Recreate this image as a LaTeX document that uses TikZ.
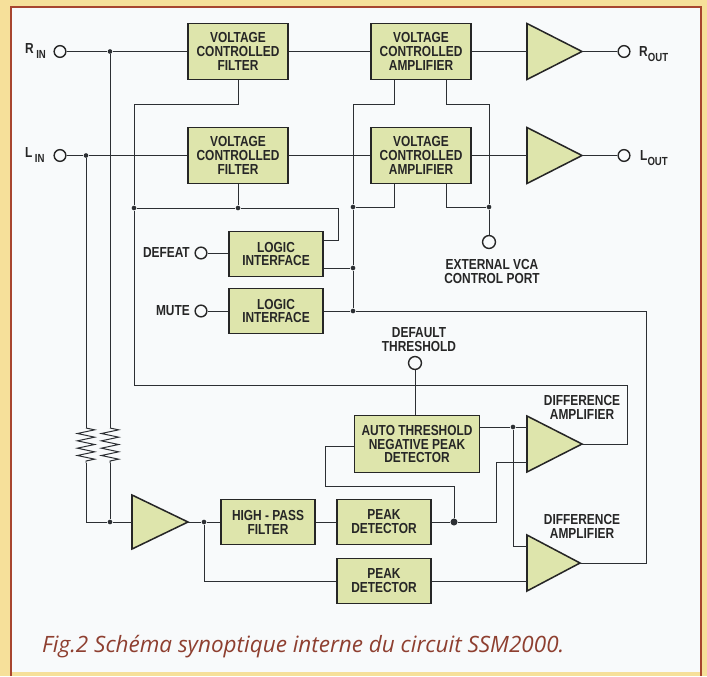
\documentclass[tikz,border=0pt]{standalone}
\usepackage{fontspec}
\setmainfont{Liberation Sans}
\newfontfamily\blockfont[FakeStretch=0.82]{Liberation Sans}
\newfontfamily\captionfont{Open Sans}
\usetikzlibrary{decorations.pathmorphing}
\definecolor{pagecol}{HTML}{F6E09A}
\definecolor{framecol}{HTML}{A8452F}
\definecolor{insidecol}{HTML}{F8FAFB}
\definecolor{blockcol}{HTML}{DEE5AC}
\definecolor{wirecol}{HTML}{2C2F33}
\definecolor{captioncol}{HTML}{8E3F30}
\tikzset{
    blockbox/.style={draw=black!85, fill=blockcol, line width=1.1pt, inner sep=0pt, font=\blockfont\bfseries\fontsize{12.4}{11.9}\selectfont, text=black!85, align=center},
    lbl/.style={font=\blockfont\bfseries\fontsize{12.4}{11.9}\selectfont, text=black!85, align=center, inner sep=0pt},
    wire/.style={draw=wirecol, line width=0.85pt},
    port/.style={circle, draw=black!85, fill=insidecol, line width=1.2pt, minimum size=10pt, inner sep=0pt},
    joint/.style={circle, fill=wirecol, minimum size=4pt, inner sep=0pt},
    resistor/.style={wire, decorate, decoration={zigzag, amplitude=2.6mm, segment length=2.2mm}}
}
% triangle for amplifiers, #1 = name, #2 = left x, #3 = mid y, #4 = height, #5 = width
\newcommand{\ampl}[5]{
    \coordinate (#1in) at (#2,#3);
    \coordinate (#1a) at (#2,#3-#4/2);
    \coordinate (#1b) at (#2,#3+#4/2);
    \coordinate (#1tip) at (#2+#5,#3);
    \draw[fill=blockcol, draw=black!85, line width=1.3pt] (#1a) -- (#1tip) -- (#1b) -- cycle;
}
\begin{document}
\begin{tikzpicture}[x=0.3mm, y=-0.3mm]
    \useasboundingbox (0,0) rectangle (707,676);
    \fill[pagecol] (0,0) rectangle (707,676);
    \fill[insidecol] (11,7) rectangle (701,672);
    \draw[framecol, line width=2.2pt] (11,676) -- (11,7) -- (701,7) -- (701,676);

    % blocks
    \node[blockbox, minimum width=30mm, minimum height=16.8mm] (vcfr) at (238,51.5) {VOLTAGE\\CONTROLLED\\FILTER};
    \node[blockbox, minimum width=30mm, minimum height=16.8mm] (vcfl) at (238,155.5) {VOLTAGE\\CONTROLLED\\FILTER};
    \node[blockbox, minimum width=30mm, minimum height=16.8mm] (vcar) at (421,51.5) {VOLTAGE\\CONTROLLED\\AMPLIFIER};
    \node[blockbox, minimum width=30mm, minimum height=16.8mm] (vcal) at (421,155.5) {VOLTAGE\\CONTROLLED\\AMPLIFIER};
    \node[blockbox, minimum width=28.2mm, minimum height=13.5mm] (logica) at (276,254) {LOGIC\\INTERFACE};
    \node[blockbox, minimum width=28.2mm, minimum height=13.5mm] (logicb) at (276,311) {LOGIC\\INTERFACE};
    \node[blockbox, minimum width=37.5mm, minimum height=17.1mm] (autothr) at (417,444) {AUTO THRESHOLD\\NEGATIVE PEAK\\DETECTOR};
    \node[blockbox, minimum width=28.2mm, minimum height=13.5mm] (hpf) at (268,522) {HIGH - PASS\\FILTER};
    \node[blockbox, minimum width=28.2mm, minimum height=13.5mm] (peaka) at (384,522) {PEAK\\DETECTOR};
    \node[blockbox, minimum width=28.2mm, minimum height=13.5mm] (peakb) at (384,581) {PEAK\\DETECTOR};

    % amplifiers
    \ampl{ampr}{527}{51.5}{56}{55}
    \ampl{ampl}{527}{155.5}{56}{55}
    \ampl{ampin}{132}{522}{54}{56}
    \ampl{diffa}{527}{444}{56}{55}
    \ampl{diffb}{527}{563}{56}{53}

    % ports
    \node[port] (rin) at (60,51.5) {};
    \node[port] (lin) at (60,155.5) {};
    \node[port] (rout) at (624,51.5) {};
    \node[port] (lout) at (624,155.5) {};
    \node[port] (defeat) at (201,253) {};
    \node[port] (mute) at (201,311) {};
    \node[port, minimum size=11pt] (extvca) at (489,242) {};
    \node[port, minimum size=11pt] (defthr) at (415,363) {};

    % junctions
    \node[joint] (jrin) at (110,51.5) {};
    \node[joint] (jlin) at (86,155.5) {};
    \node[joint] (jsum) at (110,522) {};
    \node[joint] (jhp) at (204,522) {};
    \node[joint] (jctl) at (134,208) {};
    \node[joint] (jvcf) at (238,208) {};
    \node[joint] (jvcaa) at (353,207) {};
    \node[joint] (jvcab) at (353,268) {};
    \node[joint] (jvcac) at (353,311) {};
    \node[joint] (jext) at (489,207) {};
    \node[joint, minimum size=6pt] (jpeak) at (454,522) {};
    \node[joint] (jthr) at (513,427) {};

    % resistor ends
    \coordinate (ra1) at (86,428);
    \coordinate (ra2) at (86,463);
    \coordinate (rb1) at (110,428);
    \coordinate (rb2) at (110,463);

    % signal path
    \draw[wire] (rin) -- (jrin) -- (vcfr) -- (vcar) -- (amprin);
    \draw[wire] (amprtip) -- (rout);
    \draw[wire] (lin) -- (jlin) -- (vcfl) -- (vcal) -- (amplin);
    \draw[wire] (ampltip) -- (lout);
    \draw[wire] (jrin) -- (rb1);
    \draw[wire] (jlin) -- (ra1);
    \draw[resistor] (ra1) -- (ra2);
    \draw[resistor] (rb1) -- (rb2);
    \draw[wire] (ra2) |- (jsum) -- (ampinin);
    \draw[wire] (rb2) -- (jsum);
    \draw[wire] (ampintip) -- (jhp) -- (hpf) -- (peaka);
    \draw[wire] (jhp) |- (peakb);
    \draw[wire] (peakb) -- (peakb -| diffbin);

    % control lines
    \draw[wire] (vcfr.south) |- (134,104) -- (jctl);
    \draw[wire] (jctl) -- (134,385) -- (627,385) |- (diffatip);
    \draw[wire] (vcfl.south) -- (jvcf);
    \draw[wire] (jctl) -- (jvcf) -- (338,208) |- (logica.east |- 0,240);
    \draw[wire] (vcar.south -| 394,0) |- (353,104) -- (jvcaa) -- (jvcab) -- (jvcac);
    \draw[wire] (vcal.south -| 394,0) |- (jvcaa);
    \draw[wire] (logica.east |- jvcab) -- (jvcab);
    \draw[wire] (logicb) -- (jvcac) -- (646,311) |- (diffbtip);
    \draw[wire] (vcar.south -| 446,0) |- (489,104) -- (jext) -- (extvca);
    \draw[wire] (vcal.south -| 446,0) |- (jext);
    \draw[wire] (defeat) -- (defeat -| logica.west);
    \draw[wire] (mute) -- (logicb);

    % threshold part
    \draw[wire] (defthr) -- (defthr |- autothr.north);
    \draw[wire] (autothr.east |- jthr) -- (jthr) -- (jthr -| diffaa);
    \draw[wire] (jthr) |- (527,546);
    \draw[wire] (peaka) -- (jpeak) -- (496,522) |- (527,462);
    \draw[wire] (jpeak) |- (325,486) |- (autothr.west |- 0,446);

    % labels
    \node[lbl, anchor=east] (defeatlbl) at (190,253) {DEFEAT};
    \node[lbl, anchor=east] (mutelbl) at (190,311) {MUTE};
    \node[lbl] (extlbl) at (492,271.5) {EXTERNAL VCA\\CONTROL PORT};
    \node[lbl] (thrlbl) at (419,340) {DEFAULT\\THRESHOLD};
    \node[lbl] (diffalbl) at (582,407) {DIFFERENCE\\AMPLIFIER};
    \node[lbl] (diffblbl) at (582,526) {DIFFERENCE\\AMPLIFIER};
    \node[lbl, anchor=west] (rinlbl) at (25,51) {R\raisebox{-0.6ex}{\,\fontsize{10}{10}\selectfont IN}};
    \node[lbl, anchor=west] (linlbl) at (25,155) {L\raisebox{-0.6ex}{\,\fontsize{10}{10}\selectfont IN}};
    \node[lbl, anchor=west] (routlbl) at (639,54) {R\raisebox{-0.6ex}{\fontsize{10}{10}\selectfont OUT}};
    \node[lbl, anchor=west] (loutlbl) at (640,158) {L\raisebox{-0.6ex}{\fontsize{10}{10}\selectfont OUT}};
    \node[anchor=base west, inner sep=0pt, text=captioncol, font=\captionfont\itshape\fontsize{19.2}{20}\selectfont] (caption) at (42,652) {Fig.2 Schéma synoptique interne du circuit SSM2000.};
\end{tikzpicture}
\end{document}
